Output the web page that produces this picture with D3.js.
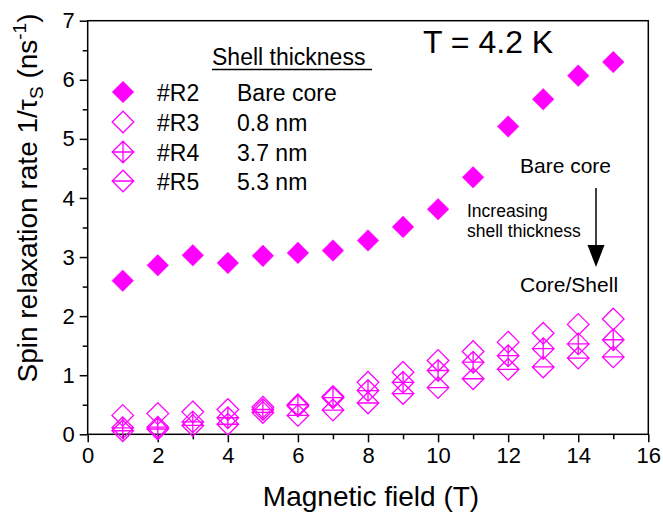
<!DOCTYPE html>
<html>
<head>
<meta charset="utf-8">
<script src="https://cdn.jsdelivr.net/npm/d3@7"></script>
<style>
html,body{margin:0;padding:0;background:#fff;}
svg{display:block;font-family:"Liberation Sans",Arial,sans-serif;}
</style>
</head>
<body>
<svg id="chart" width="663" height="516"></svg>
<script>
const fields = [1,2,3,4,5,6,7,8,9,10,11,12,13,14,15];
const r2 = [2.60,2.86,3.03,2.90,3.02,3.07,3.11,3.28,3.51,3.81,4.35,5.21,5.67,6.07,6.30];
const r3 = [0.32,0.35,0.38,0.42,0.46,0.48,0.64,0.88,1.05,1.25,1.40,1.56,1.71,1.86,1.95];
const r4 = [0.11,0.12,0.21,0.28,0.42,0.50,0.62,0.74,0.88,1.08,1.22,1.33,1.45,1.53,1.60];
const r5 = [0.06,0.09,0.15,0.17,0.37,0.32,0.41,0.53,0.69,0.79,0.94,1.10,1.14,1.29,1.31];
const seriesNames = ["#R2","#R3","#R4","#R5"];
const shellLabels = ["Bare core","0.8 nm","3.7 nm","5.3 nm"];
const xMajorTicks = [0,2,4,6,8,10,12,14,16];
const yMajorTicks = [0,1,2,3,4,5,6,7];

const svg = d3.select("#chart");
const M = {left:87.7, right:648.3, top:20.7, bottom:434.3};
const x = d3.scaleLinear().domain([0,16]).range([M.left, M.right]);
const y = d3.scaleLinear().domain([0,7]).range([M.bottom, M.top]);
const magenta = "#ff00ff";
const R = 10.8;

// custom diamond symbols
function diamondPath(r, kind){
  const p = d3.path();
  p.moveTo(0,-r); p.lineTo(r,0); p.lineTo(0,r); p.lineTo(-r,0); p.closePath();
  if(kind==="cross"||kind==="hline"){ p.moveTo(-r,0); p.lineTo(r,0); }
  if(kind==="cross"){ p.moveTo(0,-r); p.lineTo(0,r); }
  return p.toString();
}
const series = [
  {name:seriesNames[0], label:shellLabels[0], vals:r2, kind:"plain", filled:true},
  {name:seriesNames[1], label:shellLabels[1], vals:r3, kind:"plain", filled:false},
  {name:seriesNames[2], label:shellLabels[2], vals:r4, kind:"cross", filled:false},
  {name:seriesNames[3], label:shellLabels[3], vals:r5, kind:"hline", filled:false}
];

// frame
svg.append("rect").attr("x",M.left).attr("y",M.top)
  .attr("width",M.right-M.left).attr("height",M.bottom-M.top)
  .attr("fill","none").attr("stroke","#000").attr("stroke-width",1.5);

// x axis
const xAxis = d3.axisBottom(x).tickValues(xMajorTicks).tickSize(8).tickPadding(5).tickFormat(d3.format("d"));
const gx = svg.append("g").attr("transform",`translate(0,${M.bottom})`).call(xAxis);
gx.select(".domain").remove();
gx.selectAll(".tick line").attr("stroke-width",1.5);
gx.selectAll("text").attr("font-size",22).attr("fill","#000").attr("font-family","Liberation Sans, Arial, sans-serif");
const gxm = svg.append("g").attr("transform",`translate(0,${M.bottom})`)
  .call(d3.axisBottom(x).tickValues(d3.range(1,16,2)).tickSize(5).tickFormat(""));
gxm.select(".domain").remove();
gxm.selectAll(".tick line").attr("stroke-width",1.5);

// y axis
const yAxis = d3.axisLeft(y).tickValues(yMajorTicks).tickSize(8).tickPadding(5).tickFormat(d3.format("d"));
const gy = svg.append("g").attr("transform",`translate(${M.left},0)`).call(yAxis);
gy.select(".domain").remove();
gy.selectAll(".tick line").attr("stroke-width",1.5);
gy.selectAll("text").attr("font-size",22).attr("fill","#000").attr("font-family","Liberation Sans, Arial, sans-serif");
const gym = svg.append("g").attr("transform",`translate(${M.left},0)`)
  .call(d3.axisLeft(y).tickValues(d3.range(0.5,7,1)).tickSize(5).tickFormat(""));
gym.select(".domain").remove();
gym.selectAll(".tick line").attr("stroke-width",1.5);

// axis titles
svg.append("text").attr("x",(M.left+M.right)/2+3).attr("y",506)
  .attr("text-anchor","middle").attr("font-size",28).text("Magnetic field (T)");
const yt = svg.append("text").attr("transform","translate(37,198) rotate(-90)")
  .attr("text-anchor","middle").attr("font-size",28);
yt.append("tspan").text("Spin relaxation rate 1/\u03C4");
yt.append("tspan").attr("font-size",19).attr("dy",6).text("S");
yt.append("tspan").attr("dy",-6).text(" (ns");
yt.append("tspan").attr("font-size",19).attr("dy",-11).text("-1");
yt.append("tspan").attr("dy",11).text(")");

// data points (draw lower series first so R2 on top)
series.slice().reverse().forEach(s=>{
  svg.append("g").selectAll("path").data(s.vals.map((v,i)=>({x:fields[i],y:v})))
    .join("path")
    .attr("transform",d=>`translate(${x(d.x)},${y(d.y)})`)
    .attr("d",diamondPath(R,s.kind))
    .attr("fill",s.filled?magenta:"none")
    .attr("stroke",magenta)
    .attr("stroke-width",s.filled?0.5:1.3);
});

// legend
svg.append("text").attr("x",212).attr("y",65).attr("font-size",23).text("Shell thickness");
svg.append("line").attr("x1",212).attr("x2",372).attr("y1",69.5).attr("y2",69.5)
  .attr("stroke","#000").attr("stroke-width",1.5);
const rowsY = [92,122,152,181];
series.forEach((s,i)=>{
  svg.append("path").attr("transform",`translate(123,${rowsY[i]})`)
    .attr("d",diamondPath(R,s.kind))
    .attr("fill",s.filled?magenta:"none").attr("stroke",magenta)
    .attr("stroke-width",s.filled?0.5:1.3);
  svg.append("text").attr("x",157).attr("y",rowsY[i]+8.5).attr("font-size",23).text(s.name);
  svg.append("text").attr("x",237).attr("y",rowsY[i]+8.5).attr("font-size",23).text(s.label);
});

// annotations
svg.append("text").attr("x",423).attr("y",53).attr("font-size",32).text("T = 4.2 K");
svg.append("text").attr("x",520).attr("y",173).attr("font-size",21).text("Bare core");
svg.append("text").attr("x",467).attr("y",217).attr("font-size",17.5).text("Increasing");
svg.append("text").attr("x",467).attr("y",237).attr("font-size",17.5).text("shell thickness");
svg.append("text").attr("x",520).attr("y",292).attr("font-size",21).text("Core/Shell");
svg.append("line").attr("x1",596).attr("x2",596).attr("y1",188).attr("y2",250)
  .attr("stroke","#000").attr("stroke-width",1.5);
svg.append("path").attr("d","M587.5,245 L604.5,245 L596,267 Z").attr("fill","#000");
</script>
</body>
</html>
